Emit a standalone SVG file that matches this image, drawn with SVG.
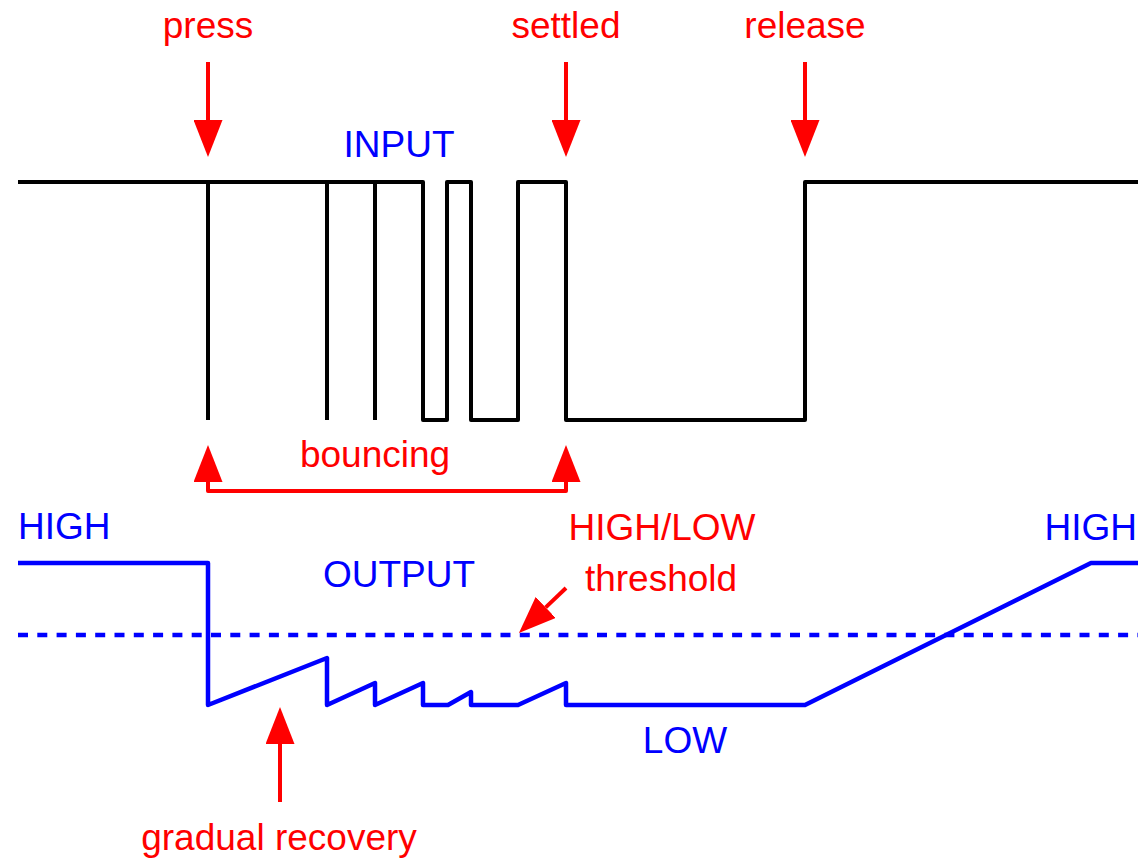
<svg xmlns="http://www.w3.org/2000/svg" width="1142" height="858" viewBox="0 0 1142 858">
<style>
text{font-family:"Liberation Sans",Arial,sans-serif;font-size:37px}
.red{fill:#ff0000}
.blue{fill:#0000ff}
.mid{text-anchor:middle}
.wave-in{fill:none;stroke:#000;stroke-width:4;stroke-linejoin:round}
.wave-out{fill:none;stroke:#0000ff;stroke-width:4.5;stroke-linejoin:round}
.thresh{fill:none;stroke:#0000ff;stroke-width:4.5;stroke-dasharray:10 9.3}
.arrow{fill:none;stroke:#ff0000;stroke-width:4;stroke-linejoin:round}
</style>
<defs>
<marker id="head" markerUnits="userSpaceOnUse" markerWidth="37" markerHeight="29" refX="0" refY="14.5" orient="auto-start-reverse" viewBox="0 0 37 29">
<path d="M0,0 L37,14.5 L0,29 Z" fill="#ff0000"/>
</marker>
</defs>
<rect width="1142" height="858" fill="#fff"/>

<g id="input-signal">
<path class="wave-in" d="M18,182 H423 V420 H447 V182 H471 V420 H518 V182 H566 V420 H805 V182 H1138"/>
<path class="wave-in" d="M208,182 V420 M327,182 V420 M375,182 V420"/>
<text class="blue mid" x="399" y="157">INPUT</text>
</g>

<g id="output-signal">
<path class="thresh" d="M18,635 H1138"/>
<path class="wave-out" d="M18,563 H208 V705 L327,658 V705 L375,683 V705 L423,683 V705 H448 L471,692 V705 H518 L566,683 V705 H805 L1091,563 H1138"/>
<text class="blue mid" x="399" y="587">OUTPUT</text>
<text class="blue" x="18" y="539">HIGH</text>
<text class="blue" x="1137" y="540" text-anchor="end">HIGH</text>
<text class="blue mid" x="685" y="753">LOW</text>
</g>

<g id="label-press"><text class="red mid" x="208" y="38">press</text></g>
<g id="label-settled"><text class="red mid" x="566" y="38">settled</text></g>
<g id="label-release"><text class="red mid" x="805" y="38">release</text></g>
<g id="label-bouncing"><text class="red mid" x="375" y="467">bouncing</text></g>
<g id="label-threshold">
<text class="red mid" x="662" y="540">HIGH/LOW</text>
<text class="red mid" x="661" y="591">threshold</text>
</g>
<g id="label-recovery"><text class="red mid" x="279" y="850">gradual recovery</text></g>

<g id="connectors">
<path class="arrow" d="M208,62 V120" marker-end="url(#head)"/>
<path class="arrow" d="M566,62 V120" marker-end="url(#head)"/>
<path class="arrow" d="M805,62 V120" marker-end="url(#head)"/>
<path class="arrow" d="M208,482 V491 H566 V482" marker-start="url(#head)" marker-end="url(#head)"/>
<path class="arrow" d="M566,588 L545.7,607.4" marker-end="url(#head)"/>
<path class="arrow" d="M280,802 V744" marker-end="url(#head)"/>
</g>
</svg>
